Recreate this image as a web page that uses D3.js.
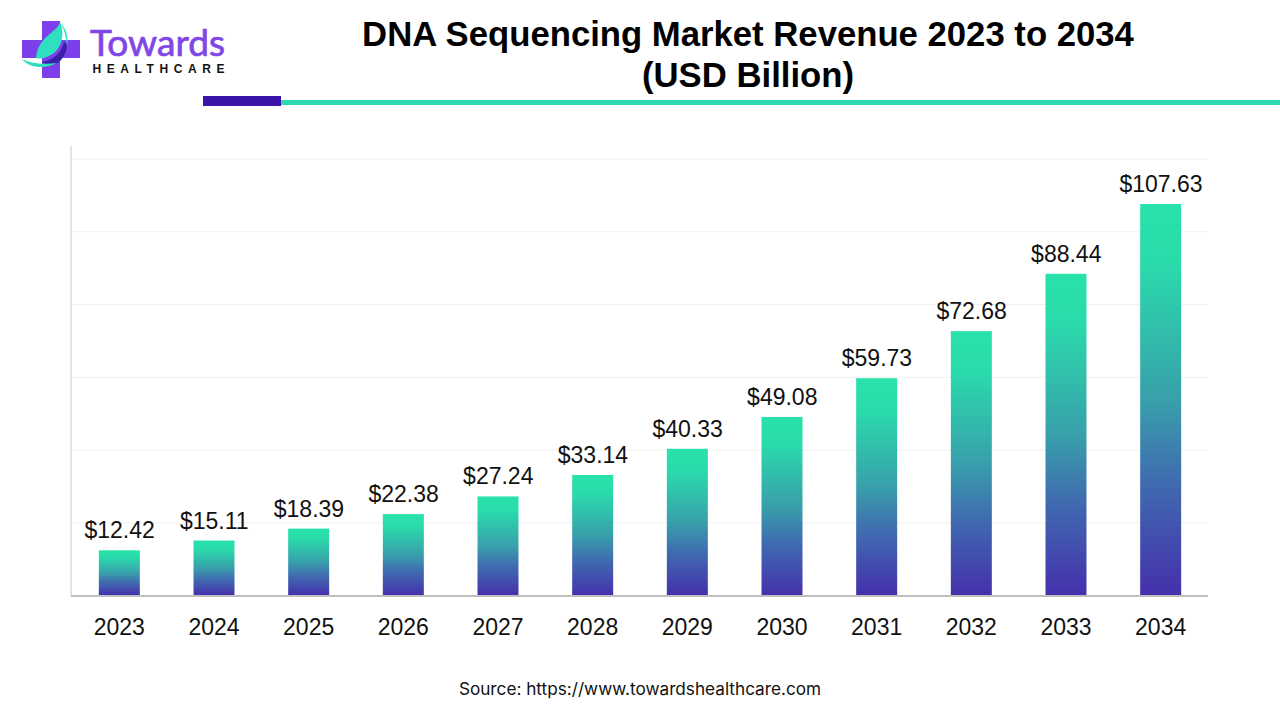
<!DOCTYPE html>
<html><head><meta charset="utf-8">
<script src="https://cdn.jsdelivr.net/npm/d3@7"></script>
<style>html,body{margin:0;padding:0;background:#fff;overflow:hidden}svg{display:block}text{font-family:"Liberation Sans",Arial,sans-serif}</style>
</head><body><svg id="c" width="1280" height="720"></svg>
<script>
const years = ["2023","2024","2025","2026","2027","2028","2029","2030","2031","2032","2033","2034"];
const revenue = [12.42,15.11,18.39,22.38,27.24,33.14,40.33,49.08,59.73,72.68,88.44,107.63];
const gridTicks = [20,40,60,80,100,120];
const titleLines = ["DNA Sequencing Market Revenue 2023 to 2034","(USD Billion)"];
const sourceText = "Source: https://www.towardshealthcare.com";

const svg = d3.select("#c");
const x = d3.scaleBand().domain(years).range([72,1208]).paddingInner(0.567).paddingOuter(0.2835);
const y = d3.scaleLinear().domain([0,120]).range([595.5,159]);

const defs = svg.append("defs");
const grad = defs.append("linearGradient").attr("id","barGrad").attr("x1",0).attr("y1",0).attr("x2",0).attr("y2",1);
grad.append("stop").attr("offset","0%").attr("stop-color","#28E2AA");
grad.append("stop").attr("offset","15%").attr("stop-color","#2ADBAB");
grad.append("stop").attr("offset","50%").attr("stop-color","#38A0AB");
grad.append("stop").attr("offset","70%").attr("stop-color","#3F6DB0");
grad.append("stop").attr("offset","100%").attr("stop-color","#4530AC");

// header
svg.selectAll("text.title").data(titleLines).join("text").attr("class","title")
  .attr("x",748).attr("y",(d,i)=>46+i*41).attr("text-anchor","middle")
  .attr("font-size",34.7).attr("font-weight",700).attr("fill","#000").text(d=>d);
svg.append("rect").attr("x",281).attr("y",100).attr("width",999).attr("height",5).attr("fill","#2FD9B0");
svg.append("rect").attr("x",203).attr("y",96).attr("width",78).attr("height",10).attr("fill","#3B14AC");

// logo
const logo = svg.append("g");
logo.append("path").attr("fill","#7C3FEA")
  .attr("d","M42 21H60V40H80V58H60V78H42V58H22V40H42Z");
logo.append("path").attr("fill","#3A1FA8")
  .attr("d","M64 42C62 52 54 60 42 62C48 66 56 66 61 60C65 55 67 50 67 44Z");
logo.append("path").attr("fill","#2EE0C0")
  .attr("d","M60 22C58 32 38 36 36 58C42 60 52 56 57 50C63 43 64 30 60 22Z");
logo.append("path").attr("fill","#2EE0C0")
  .attr("d","M60 22C66 28 69 38 67 46C66 36 64 28 60 22Z");
logo.append("path").attr("fill","#2EE0C0")
  .attr("d","M22 59C30 63 42 65 57 63C46 69 30 69 22 59Z");
logo.append("text").attr("x",90).attr("y",55.5).attr("font-size",36).attr("fill","#7F47E6")
  .attr("stroke","#7F47E6").attr("stroke-width",0.7)
  .style("font-family","Lato").attr("textLength",135).attr("lengthAdjust","spacingAndGlyphs").text("Towards");
logo.append("text").attr("x",92.5).attr("y",73).attr("font-size",12).attr("font-weight",700).attr("fill","#111")
  .attr("textLength",132).attr("lengthAdjust","spacing").text("HEALTHCARE");

// grid + axes
svg.selectAll("line.grid").data(gridTicks).join("line").attr("class","grid")
  .attr("x1",72).attr("x2",1208).attr("y1",d=>y(d)).attr("y2",d=>y(d))
  .attr("stroke","#F0F0F0").attr("stroke-width",1);
svg.append("line").attr("x1",71).attr("x2",71).attr("y1",146).attr("y2",596).attr("stroke","#E4E4E4").attr("stroke-width",2);

svg.selectAll("rect.bar").data(revenue).join("rect").attr("class","bar")
  .attr("x",(d,i)=>x(years[i])).attr("width",x.bandwidth())
  .attr("y",d=>y(d)).attr("height",d=>y(0)-y(d)).attr("fill","url(#barGrad)");

svg.append("line").attr("x1",71).attr("x2",1208).attr("y1",596).attr("y2",596).attr("stroke","#BFBFBF").attr("stroke-width",2);

svg.selectAll("text.val").data(revenue).join("text").attr("class","val")
  .attr("x",(d,i)=>x(years[i])+x.bandwidth()/2+0.3).attr("y",d=>y(d)-12).attr("text-anchor","middle")
  .attr("font-size",23).attr("fill","#111").text(d=>"$"+d.toFixed(2));

svg.selectAll("text.yr").data(years).join("text").attr("class","yr")
  .attr("x",d=>x(d)+x.bandwidth()/2).attr("y",635).attr("text-anchor","middle")
  .attr("font-size",23).attr("fill","#111").text(d=>d);

svg.append("text").attr("x",640).attr("y",694.5).attr("text-anchor","middle")
  .style("font-family","Inter").attr("font-size",17.2).attr("fill","#111").text(sourceText);
</script></body></html>
